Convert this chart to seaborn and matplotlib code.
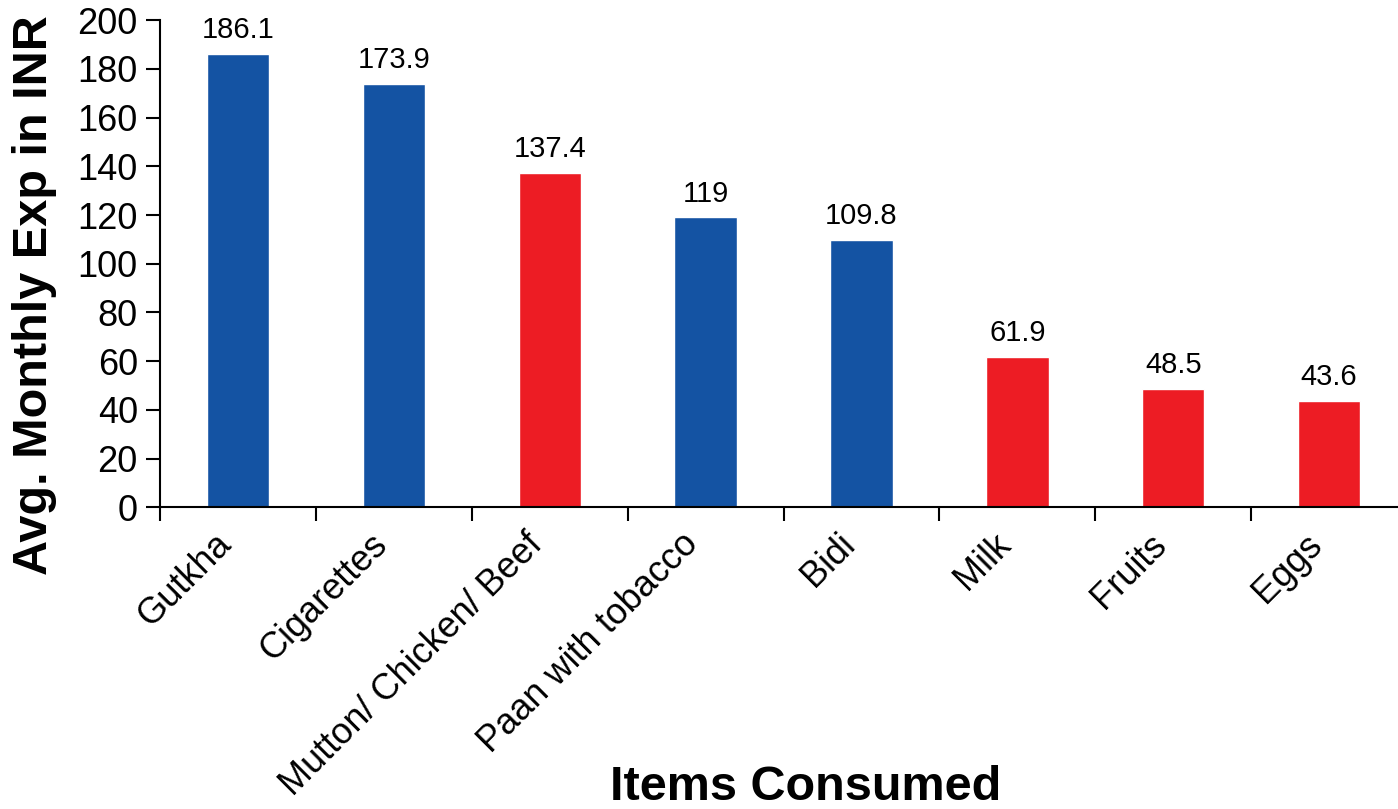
import matplotlib
matplotlib.use("Agg")
import matplotlib.pyplot as plt
import seaborn as sns
import pandas as pd

items = ["Gutkha", "Cigarettes", "Mutton/ Chicken/ Beef", "Paan with tobacco",
         "Bidi", "Milk", "Fruits", "Eggs"]
expense = [186.1, 173.9, 137.4, 119, 109.8, 61.9, 48.5, 43.6]
value_labels = ["186.1", "173.9", "137.4", "119", "109.8", "61.9", "48.5", "43.6"]
group = ["Tobacco", "Tobacco", "Food", "Tobacco", "Tobacco", "Food", "Food", "Food"]
palette = {"Tobacco": "#1453A3", "Food": "#ED1C24"}

sns.set_style("white", {"xtick.bottom": True, "ytick.left": True,
                        "text.color": "black", "axes.labelcolor": "black",
                        "xtick.color": "black", "ytick.color": "black"})
plt.rcParams["font.family"] = ["Liberation Sans", "DejaVu Sans"]

df = pd.DataFrame({"item": items, "exp": expense, "group": group})

fig = plt.figure(figsize=(13.98, 8.09), dpi=100)
ax = fig.add_axes([0.1145, 0.373, 0.892, 0.602])

sns.barplot(data=df, x="item", y="exp", hue="group", palette=palette,
            width=0.4, dodge=False, legend=False, ax=ax, saturation=1)

for i, (v, t) in enumerate(zip(expense, value_labels)):
    ax.text(i, v + 4, t, ha="center", va="bottom", fontsize=21, color="black")

ax.set_ylim(0, 200)
ax.set_xlim(-0.5, 7.5)
ax.set_yticks(range(0, 201, 20))
# boundary ticks between categories, labels centred under each bar
ax.set_xticks([x - 0.5 for x in range(8)], minor=False)
ax.set_xticklabels([])
ax.set_xticks(range(8), minor=True)
ax.set_xticklabels(items, minor=True, rotation=45, ha="right", va="top",
                   rotation_mode="default", fontsize=26)
ax.tick_params(axis="x", which="minor", length=0, pad=14)
ax.tick_params(axis="x", which="major", length=10, width=1.5, direction="out")
ax.tick_params(axis="y", length=10, width=1.5, direction="out", labelsize=26, pad=6)

for s in ["top", "right"]:
    ax.spines[s].set_visible(False)
for s in ["left", "bottom"]:
    ax.spines[s].set_linewidth(1.5)
    ax.spines[s].set_color("black")

ax.set_xlabel("")
ax.set_ylabel("")
fig.text(0.025, 0.635, "Avg. Monthly Exp in INR", rotation=90, ha="center",
         va="center", fontsize=35, fontweight="bold")
fig.text(0.576, 0.011, "Items Consumed", ha="center", va="baseline",
         fontsize=35, fontweight="bold")

fig.savefig("out.png", dpi=100)
